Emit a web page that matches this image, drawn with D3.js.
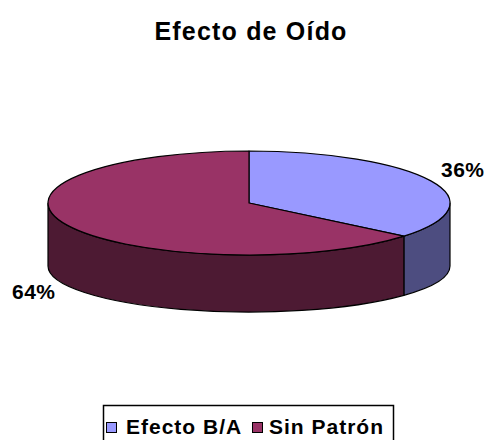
<!DOCTYPE html>
<html>
<head>
<meta charset="utf-8">
<script src="https://cdn.jsdelivr.net/npm/d3@7"></script>
<style>
  body { margin: 0; background: #fff; }
  text { font-family: "Liberation Sans", Arial, sans-serif; font-weight: bold; }
</style>
</head>
<body>
<div class="chart"></div>
<script>
var categories = ['Efecto B/A', 'Sin Patrón'];
var values = [36, 64];
var labels = ['36%', '64%'];
var topColors = ['#9999FF', '#993366'];
var sideColors = ['#4D4D80', '#4D1A33'];

var width = 488, height = 440;
var svg = d3.select('.chart').append('svg')
  .attr('width', width).attr('height', height);

// geometry of the tilted pie
var cx = 249, cy = 203, rx = 201, ry = 52;
var cyb = 266, ryb = 46;

var topPt = function(a) { return [cx + rx * Math.sin(a), cy - ry * Math.cos(a)]; };
var botPt = function(a) { return [cx + rx * Math.sin(a), cyb - ryb * Math.cos(a)]; };

var pie = d3.pie().sort(null).startAngle(0).endAngle(2 * Math.PI);
var arcs = pie(values);

// side walls (only the front half is visible)
arcs.forEach(function(d, i) {
  var a0 = Math.max(d.startAngle, Math.PI / 2);
  var a1 = Math.min(d.endAngle, 3 * Math.PI / 2);
  if (a1 <= a0) return;
  var t0 = topPt(a0), t1 = topPt(a1), b0 = botPt(a0), b1 = botPt(a1);
  var p = 'M' + t0 + 'A' + rx + ',' + ry + ' 0 0 1 ' + t1 +
          'L' + b1 + 'A' + rx + ',' + ryb + ' 0 0 0 ' + b0 + 'Z';
  svg.append('path').attr('d', p)
    .attr('fill', sideColors[i]).attr('stroke', '#000').attr('stroke-width', 1.2)
    .attr('stroke-linejoin', 'round');
});

// top faces
arcs.forEach(function(d, i) {
  var s = topPt(d.startAngle), e = topPt(d.endAngle);
  var large = (d.endAngle - d.startAngle) > Math.PI ? 1 : 0;
  var p = 'M' + cx + ',' + cy + 'L' + s + 'A' + rx + ',' + ry + ' 0 ' + large + ' 1 ' + e + 'Z';
  svg.append('path').attr('d', p)
    .attr('fill', topColors[i]).attr('stroke', '#000').attr('stroke-width', 1.2)
    .attr('stroke-linejoin', 'round');
});

// title
svg.append('text').attr('x', 251).attr('y', 40)
  .attr('text-anchor', 'middle').style('font-size', '25px').style('letter-spacing', '1.2px')
  .text('Efecto de Oído');

// percentage labels
var labelPos = [[441, 177], [12, 299]];
labels.forEach(function(t, i) {
  svg.append('text').attr('x', labelPos[i][0]).attr('y', labelPos[i][1])
    .style('font-size', '21px').style('letter-spacing', '0.5px').text(t);
});

// legend
svg.append('rect').attr('x', 103.5).attr('y', 405.5).attr('width', 290).attr('height', 40)
  .attr('fill', '#fff').attr('stroke', '#000').attr('stroke-width', 1.5);
var legendX = [106, 252];
var legendTextX = [126, 269];
categories.forEach(function(c, i) {
  svg.append('rect').attr('x', legendX[i] + 0.5).attr('y', 422.5).attr('width', 10).attr('height', 10)
    .attr('fill', topColors[i]).attr('stroke', '#000').attr('stroke-width', 1);
  svg.append('text').attr('x', legendTextX[i]).attr('y', 434)
    .style('font-size', '21px').style('letter-spacing', '1px').text(c);
});
</script>
</body>
</html>
